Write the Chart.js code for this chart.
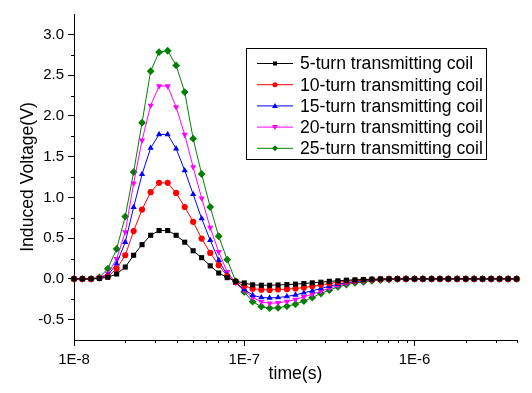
<!DOCTYPE html>
<html>
<head>
<meta charset="utf-8">
<script src="https://cdn.jsdelivr.net/npm/chart.js@4.4.0/dist/chart.umd.min.js"></script>
<style>
  body { margin: 0; background: #fff; }
  canvas { display: block; }
</style>
</head>
<body>
<canvas id="myChart" width="532" height="393" style="width:532px;height:393px"></canvas>
<script>
// time axis (s), log spaced samples
var times = [
  1.00e-8, 1.12e-8, 1.26e-8, 1.41e-8, 1.58e-8, 1.78e-8, 2.00e-8, 2.24e-8, 2.51e-8, 2.82e-8,
  3.16e-8, 3.55e-8, 3.98e-8, 4.47e-8, 5.01e-8, 5.62e-8, 6.31e-8, 7.08e-8, 7.94e-8, 8.91e-8,
  1.00e-7, 1.12e-7, 1.26e-7, 1.41e-7, 1.58e-7, 1.78e-7, 2.00e-7, 2.24e-7, 2.51e-7, 2.82e-7,
  3.16e-7, 3.55e-7, 3.98e-7, 4.47e-7, 5.01e-7, 5.62e-7, 6.31e-7, 7.08e-7, 7.94e-7, 8.91e-7,
  1.00e-6, 1.12e-6, 1.26e-6, 1.41e-6, 1.58e-6, 1.78e-6, 2.00e-6, 2.24e-6, 2.51e-6, 2.82e-6,
  3.16e-6, 3.55e-6, 3.98e-6
];

var turns5 = [
  0, 0, 0, 0.005, 0.02, 0.06, 0.145, 0.29, 0.42, 0.535,
  0.593, 0.593, 0.535, 0.45, 0.345, 0.26, 0.16, 0.072, 0.015, -0.03,
  -0.05, -0.073, -0.078, -0.078, -0.075, -0.07, -0.065, -0.057, -0.049, -0.041,
  -0.03, -0.024, -0.016, -0.012, -0.008, -0.004, -0.002, 0, 0, 0,
  0, 0, 0, 0, 0, 0, 0, 0, 0, 0,
  0, 0, 0
];
var turns10 = [
  0, 0, 0, 0.01, 0.028, 0.125, 0.29, 0.587, 0.85, 1.064,
  1.178, 1.178, 1.054, 0.882, 0.70, 0.495, 0.319, 0.168, 0.033, -0.037,
  -0.085, -0.12, -0.133, -0.135, -0.13, -0.126, -0.118, -0.106, -0.09, -0.073,
  -0.057, -0.041, -0.029, -0.02, -0.012, -0.008, -0.004, 0, 0, 0,
  0, 0, 0, 0, 0, 0, 0, 0, 0, 0,
  0, 0, 0
];
var turns15 = [
  0, 0, 0, 0.012, 0.045, 0.185, 0.45, 0.878, 1.283, 1.605,
  1.773, 1.773, 1.598, 1.33, 1.038, 0.74, 0.474, 0.229, 0.045, -0.049,
  -0.13, -0.2, -0.229, -0.233, -0.229, -0.216, -0.196, -0.171, -0.147, -0.118,
  -0.09, -0.065, -0.045, -0.033, -0.02, -0.012, -0.008, -0.004, 0, 0,
  0, 0, 0, 0, 0, 0, 0, 0, 0, 0,
  0, 0, 0
];
var turns20 = [
  0, 0, 0, 0.014, 0.066, 0.245, 0.576, 1.172, 1.70, 2.128,
  2.365, 2.365, 2.108, 1.77, 1.373, 0.99, 0.63, 0.331, 0.086, -0.05,
  -0.14, -0.23, -0.28, -0.3, -0.294, -0.278, -0.253, -0.22, -0.188, -0.151,
  -0.114, -0.082, -0.057, -0.037, -0.024, -0.016, -0.008, -0.004, 0, 0,
  0, 0, 0, 0, 0, 0, 0, 0, 0, 0,
  0, 0, 0
];
var turns25 = [
  0, 0, 0, 0.017, 0.125, 0.367, 0.764, 1.311, 1.916, 2.549,
  2.782, 2.799, 2.619, 2.292, 1.72, 1.287, 0.882, 0.523, 0.236, -0.028,
  -0.16, -0.28, -0.34, -0.36, -0.355, -0.335, -0.31, -0.273, -0.229, -0.18,
  -0.139, -0.098, -0.069, -0.049, -0.037, -0.024, -0.016, -0.008, -0.004, 0,
  0, 0, 0, 0, 0, 0, 0, 0, 0, 0,
  0, 0, 0
];

var seriesNames = ['5-turn transmitting coil', '10-turn transmitting coil', '15-turn transmitting coil',
  '20-turn transmitting coil', '25-turn transmitting coil'];
var xTickValues = [1e-8, 1e-7, 1e-6];
var xTickLabels = ['1E-8', '1E-7', '1E-6'];
var yTickValues = [-0.5, 0, 0.5, 1, 1.5, 2, 2.5, 3];

var FONT = '"Liberation Sans", Arial, sans-serif';
var colors = ['#000000', '#ff0000', '#0000ff', '#ff00ff', '#008000'];
var styles = ['rect', 'circle', 'triangle', 'triangle', 'rectRot'];
var rotations = [0, 0, 0, 180, 0];
var radii = [3.6, 3.1, 3.6, 3.6, 3.9];
var allSeries = [turns5, turns10, turns15, turns20, turns25];

function toPoints(vals) {
  return times.map(function (t, i) { return { x: t, y: vals[i] }; });
}

var datasets = allSeries.map(function (vals, k) {
  return {
    label: seriesNames[k],
    data: toPoints(vals),
    borderColor: colors[k],
    backgroundColor: colors[k],
    borderWidth: 1,
    pointStyle: styles[k],
    pointRotation: rotations[k],
    pointRadius: radii[k],
    pointBorderWidth: 0,
    tension: 0,
    clip: false
  };
});

// small marker for the legend
function marker(ctx, k, x, y) {
  ctx.fillStyle = colors[k];
  ctx.beginPath();
  if (k === 0) { ctx.rect(x - 2, y - 2, 4, 4); }
  else if (k === 1) { ctx.arc(x, y, 2.5, 0, Math.PI * 2); }
  else if (k === 2) { ctx.moveTo(x, y - 3); ctx.lineTo(x + 3, y + 2); ctx.lineTo(x - 3, y + 2); ctx.closePath(); }
  else if (k === 3) { ctx.moveTo(x, y + 3); ctx.lineTo(x + 3, y - 2); ctx.lineTo(x - 3, y - 2); ctx.closePath(); }
  else { ctx.moveTo(x, y - 3); ctx.lineTo(x + 3, y); ctx.lineTo(x, y + 3); ctx.lineTo(x - 3, y); ctx.closePath(); }
  ctx.fill();
}

var extras = {
  id: 'extras',
  afterDraw: function (chart) {
    var ctx = chart.ctx;
    var xs = chart.scales.x, ys = chart.scales.y;
    var bottom = chart.chartArea.bottom, left = chart.chartArea.left;
    ctx.save();
    ctx.strokeStyle = '#000';
    ctx.lineWidth = 1;
    ctx.beginPath();
    // minor ticks on x
    [1e-8, 1e-7, 1e-6].forEach(function (d) {
      for (var m = 2; m <= 9; m++) {
        var v = m * d;
        if (v > xs.max) break;
        var px = Math.round(xs.getPixelForValue(v)) + 0.5;
        ctx.moveTo(px, bottom);
        ctx.lineTo(px, bottom + 3);
      }
    });
    // minor ticks on y
    for (var v = -0.25; v < 3.2; v += 0.5) {
      var py = Math.round(ys.getPixelForValue(v)) + 0.5;
      ctx.moveTo(left, py);
      ctx.lineTo(left - 3, py);
    }
    ctx.stroke();

    // legend box
    var bx = 246.5, by = 48.5, bw = 240, bh = 111;
    ctx.fillStyle = '#fff';
    ctx.fillRect(bx, by, bw, bh);
    ctx.strokeRect(bx, by, bw, bh);
    ctx.font = '17.6px ' + FONT;
    ctx.textBaseline = 'middle';
    ctx.textAlign = 'left';
    for (var k = 0; k < 5; k++) {
      var ry = 63.5 + k * 21.2;
      ctx.strokeStyle = colors[k];
      ctx.beginPath();
      ctx.moveTo(257, ry);
      ctx.lineTo(293, ry);
      ctx.stroke();
      marker(ctx, k, 275, ry);
      ctx.fillStyle = '#000';
      ctx.fillText(seriesNames[k], 300, ry + 1);
    }
    ctx.restore();
  }
};

new Chart(document.getElementById('myChart').getContext('2d'), {
  type: 'line',
  data: { datasets: datasets },
  options: {
    responsive: false,
    devicePixelRatio: 1,
    animation: false,
    layout: { padding: { top: 14, right: 15, left: 0, bottom: 0 } },
    plugins: { legend: { display: false }, tooltip: { enabled: false } },
    scales: {
      x: {
        type: 'logarithmic',
        min: 1e-8,
        max: 4e-6,
        afterBuildTicks: function (scale) {
          scale.ticks = xTickValues.map(function (v) { return { value: v }; });
        },
        afterFit: function (scale) { scale.height = 53; },
        ticks: {
          autoSkip: false,
          maxRotation: 0,
          padding: 5,
          color: '#000',
          font: { family: FONT, size: 15 },
          callback: function (v, i) { return xTickLabels[i]; }
        },
        grid: { drawOnChartArea: false, tickLength: 6, color: '#000', tickColor: '#000' },
        border: { display: true, color: '#000', width: 1 },
        title: {
          display: true,
          text: 'time(s)',
          color: '#000',
          font: { family: FONT, size: 17.6 },
          padding: { top: 0, bottom: 8 }
        }
      },
      y: {
        type: 'linear',
        min: -0.75,
        max: 3.25,
        afterBuildTicks: function (scale) {
          scale.ticks = yTickValues.map(function (v) { return { value: v }; });
        },
        afterFit: function (scale) { scale.width = 74; },
        ticks: {
          padding: 4,
          color: '#000',
          font: { family: FONT, size: 15 },
          callback: function (v) { return v.toFixed(1); }
        },
        grid: { drawOnChartArea: false, tickLength: 6, color: '#000', tickColor: '#000' },
        border: { display: true, color: '#000', width: 1 },
        title: {
          display: true,
          text: 'Induced Voltage(V)',
          color: '#000',
          font: { family: FONT, size: 17.6 },
          padding: { top: 18, bottom: 0 }
        }
      }
    }
  },
  plugins: [extras]
});
</script>
</body>
</html>
